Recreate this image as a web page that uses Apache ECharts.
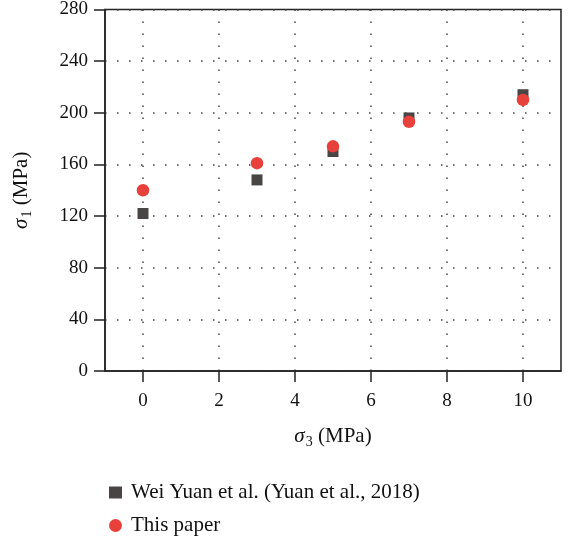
<!DOCTYPE html>
<html>
<head>
<meta charset="utf-8">
<script src="https://cdn.jsdelivr.net/npm/echarts@6/dist/echarts.min.js"></script>
<style>html,body{margin:0;padding:0;background:#fff}#c{width:571px;height:537px}</style>
</head>
<body>
<div id="c"></div>
<script>
var sigma3 = [0, 3, 5, 7, 10];
var yuanValues = [122, 148, 170, 196, 214];
var paperValues = [140, 161, 174, 193, 210];
var xTicks = [0, 2, 4, 6, 8, 10];
var yTicks = [0, 40, 80, 120, 160, 200, 240, 280];
var seriesNames = ['Wei Yuan et al. (Yuan et al., 2018)', 'This paper'];

function pairs(xs, ys) { return xs.map(function (x, i) { return [x, ys[i]]; }); }

var FONT = '"Liberation Serif", "DejaVu Serif", serif';
var nameRich = {
  s: { fontStyle: 'italic', fontSize: 21, fontFamily: FONT, color: '#111' },
  sub: { fontSize: 14, fontFamily: FONT, color: '#111', padding: [12, 0, 0, 1] },
  t: { fontSize: 21, fontFamily: FONT, color: '#111' }
};
var legendText = { fontSize: 21, color: '#111', fontFamily: FONT, padding: [0, 0, 0, 4] };
var chart = echarts.init(document.getElementById('c'));
chart.setOption({
  animation: false,
  textStyle: { fontFamily: FONT },
  grid: { left: 105, right: 10, top: 9, bottom: 166, show: true, borderColor: '#222', borderWidth: 1.5, backgroundColor: 'transparent' },
  xAxis: {
    type: 'value', min: -1, max: 11,
    axisLine: { show: true, onZero: false, lineStyle: { color: '#222', width: 1.5 } },
    axisTick: { show: true, length: 11, inside: false, customValues: xTicks, lineStyle: { color: '#222', width: 1.5 } },
    axisLabel: { customValues: xTicks, margin: 21, color: '#111', fontSize: 19, fontFamily: FONT },
    splitLine: { show: true, lineStyle: { color: '#444', width: 1.5, type: [1.5, 10.5] } },
    name: '{s|σ}{sub|3}{t| (MPa)}', nameLocation: 'middle', nameGap: 52,
    nameTextStyle: { color: '#111', fontSize: 21, fontFamily: FONT, rich: nameRich }
  },
  yAxis: {
    type: 'value', min: 0, max: 280, interval: 40,
    axisLine: { show: true, onZero: false, lineStyle: { color: '#222', width: 1.5 } },
    axisTick: { show: true, length: 11, inside: false, lineStyle: { color: '#222', width: 1.5 } },
    axisLabel: { margin: 17, color: '#111', fontSize: 19, fontFamily: FONT },
    splitLine: { show: true, lineStyle: { color: '#444', width: 1.5, type: [1.5, 10.5] } },
    name: '{s|σ}{sub|1}{t| (MPa)}', nameLocation: 'middle', nameGap: 71, nameRotate: 90,
    nameTextStyle: { color: '#111', fontSize: 21, fontFamily: FONT, rich: nameRich }
  },
  legend: [
    { left: 104, top: 477, itemWidth: 13, itemHeight: 12, textStyle: legendText,
      data: [{ name: seriesNames[0], icon: 'rect' }] },
    { left: 104, top: 510, itemWidth: 13, itemHeight: 13, textStyle: legendText,
      data: [{ name: seriesNames[1], icon: 'circle' }] }
  ],
  series: [
    { name: seriesNames[0], type: 'scatter', symbol: 'rect', symbolSize: 11,
      itemStyle: { color: '#4a4545', opacity: 1 }, data: pairs(sigma3, yuanValues), z: 2 },
    { name: seriesNames[1], type: 'scatter', symbol: 'circle', symbolSize: 12.5,
      itemStyle: { color: '#e8403a', opacity: 1 }, data: pairs(sigma3, paperValues), z: 3 }
  ]
});
</script>
</body>
</html>
